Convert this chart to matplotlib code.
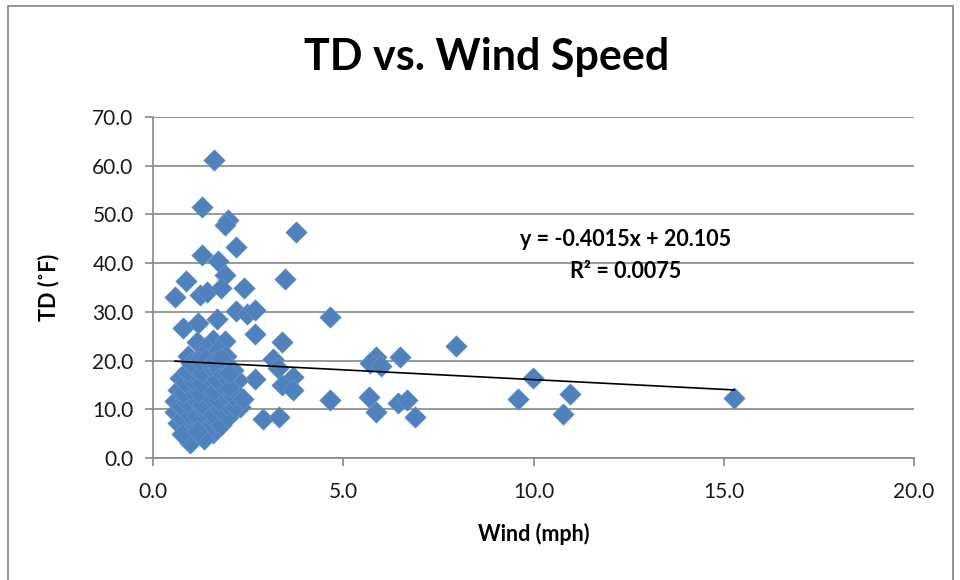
import matplotlib
matplotlib.use("Agg")
import matplotlib.pyplot as plt
import matplotlib.patches as mpatches
import numpy as np

# ─── Data ────────────────────────────────────────────────────────────────────
wind = [
    1.60, 1.29, 1.97, 1.88, 3.77, 2.18, 1.28, 1.70, 1.88, 0.87,
    3.47, 2.39, 0.58, 1.23, 1.41, 1.78, 0.80, 1.19, 1.67, 2.18,
    2.46, 2.68, 2.68, 3.38, 1.15, 1.58, 1.89, 1.36, 1.71, 0.93,
    1.28, 1.93, 3.16, 3.29, 2.68, 0.80, 2.24, 3.68, 3.38, 3.68,
    2.28, 2.28, 2.90, 3.30, 1.58, 0.88, 0.97, 4.66, 7.97, 5.87,
    6.48, 5.70, 6.00, 4.66, 5.68, 5.87, 6.44, 6.68, 6.88, 9.98,
    9.59, 10.97, 10.77, 15.28,
    # dense cluster near 1 mph
    0.66, 0.58, 0.58, 0.66, 0.71, 0.85, 1.05, 1.25, 1.45, 1.65,
    1.80, 1.98, 0.75, 0.95, 1.15, 1.35, 1.55, 1.75, 1.95, 2.15,
    0.70, 0.90, 1.10, 1.30, 1.50, 1.70, 1.90, 2.10, 2.37, 0.80,
    1.00, 1.20, 1.40, 1.60, 1.80, 2.00, 0.85, 1.05, 1.25, 1.45,
    1.65, 1.85, 2.11, 0.90, 1.10, 1.30, 1.50, 1.70, 1.90, 1.00,
    1.20, 1.40, 1.60, 1.80, 0.75, 1.35, 1.15, 2.00,
]
td = [
    61.2, 51.6, 48.9, 47.8, 46.4, 43.3, 41.7, 40.5, 37.6, 36.4,
    36.7, 35.0, 33.1, 33.4, 34.0, 34.9, 26.7, 27.8, 28.6, 30.2,
    29.6, 30.3, 25.5, 23.9, 23.8, 24.2, 24.0, 22.5, 22.1, 21.0,
    21.1, 21.0, 20.3, 18.4, 16.3, 16.6, 16.0, 16.6, 14.9, 13.9,
    12.5, 10.5, 8.1, 8.4, 5.1, 4.4, 3.0, 28.9, 23.0, 20.7,
    20.7, 19.4, 18.8, 11.9, 12.6, 9.5, 11.2, 11.9, 8.4, 16.4,
    12.2, 13.1, 9.1, 12.4,
    # dense cluster near 1 mph
    7.1, 9.5, 11.6, 14.0, 16.4, 5.8, 6.5, 7.2, 6.0, 7.5,
    6.8, 8.5, 8.3, 9.0, 8.6, 9.8, 9.2, 10.0, 10.8, 10.5,
    10.8, 11.5, 12.2, 11.0, 12.6, 12.0, 13.2, 12.8, 12.2, 13.4,
    14.2, 13.6, 14.8, 14.0, 15.2, 14.6, 15.5, 16.0, 15.4, 16.8,
    16.2, 17.2, 18.1, 17.8, 18.4, 17.6, 18.9, 18.3, 19.4, 19.6,
    20.0, 20.4, 19.8, 20.6, 5.0, 4.0, 5.5, 17.5,
]

slope = -0.4015
intercept = 20.105
r_squared = 0.0075

x_ticks = [0.0, 5.0, 10.0, 15.0, 20.0]
y_ticks = [0.0, 10.0, 20.0, 30.0, 40.0, 50.0, 60.0, 70.0]

# ─── Styling ─────────────────────────────────────────────────────────────────
plt.rcParams["font.family"] = ["Lato", "DejaVu Sans"]
marker_color = "#4F81BD"
grid_color = "#878787"
text_color = "#1a1a1a"

fig = plt.figure(figsize=(9.6, 5.8), dpi=100)
ax = fig.add_axes([153 / 960, 1 - 458 / 580, (914 - 153) / 960, (458 - 117) / 580])

# outer chart frame
frame = mpatches.Rectangle((8 / 960, -0.1), (953 - 8) / 960, 1.1 - 6 / 580,
                           transform=fig.transFigure, fill=False,
                           edgecolor="#8a8a8a", linewidth=1.3, zorder=0)
fig.patches.append(frame)

ax.scatter(wind, td, marker="D", s=120, color=marker_color,
           edgecolors="#6d98cf", linewidths=0.4, zorder=3)

# linear trendline
xs = np.array([min(wind), max(wind)])
ax.plot(xs, slope * xs + intercept, color="black", linewidth=1.2, zorder=4)

ax.set_xlim(0, 20)
ax.set_ylim(0, 70)
ax.set_xticks(x_ticks)
ax.set_yticks(y_ticks)
ax.set_xticklabels([f"{v:.1f}" for v in x_ticks])
ax.set_yticklabels([f"{v:.1f}" for v in y_ticks])
ax.tick_params(axis="both", labelsize=15, colors=grid_color,
               labelcolor=text_color, length=6, width=1.2, direction="out")
ax.tick_params(axis="y", pad=8)
ax.tick_params(axis="x", pad=11)

ax.yaxis.grid(True, color=grid_color, linewidth=1.2, zorder=1)
ax.set_axisbelow(True)
for side in ["top", "right"]:
    ax.spines[side].set_visible(False)
for side in ["left", "bottom"]:
    ax.spines[side].set_color(grid_color)
    ax.spines[side].set_linewidth(1.2)

ax.set_xlabel("Wind (mph)", fontsize=15.5, fontweight="bold", labelpad=15)
ax.set_ylabel("TD (˚F)", fontsize=15.5, fontweight="bold", labelpad=24)

fig.text(487 / 960, 1 - 57 / 580, "TD vs. Wind Speed", ha="center", va="center",
         fontsize=31, fontweight="bold", color="black")

fig.text(626 / 960, 1 - 240 / 580, f"y = {slope}x + {intercept}",
         ha="center", va="center", fontsize=15.5, fontweight="bold")
fig.text(626 / 960, 1 - 271 / 580, f"R² = {r_squared}",
         ha="center", va="center", fontsize=15.5, fontweight="bold")

fig.savefig("out.png", dpi=100, facecolor="white")
